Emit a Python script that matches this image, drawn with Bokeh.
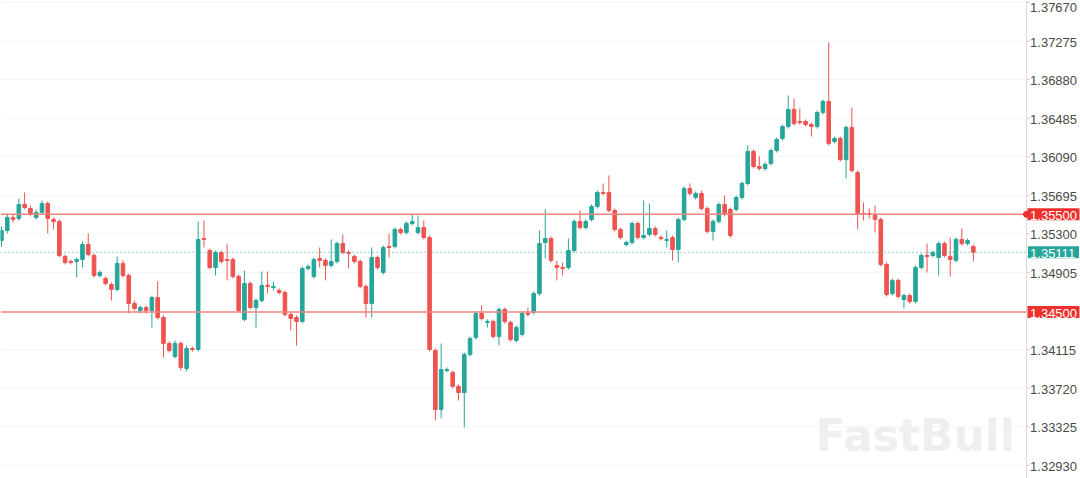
from bokeh.plotting import figure
from bokeh.models import Range1d, ColumnDataSource
from bokeh.embed import file_html
from bokeh.resources import INLINE
from bokeh.core.properties import value

# ---- OHLC data ----
opens = [
    1.35232, 1.35335, 1.35468, 1.35458, 1.35601, 1.35560, 1.35468, 1.35520, 1.35611, 1.35448,
    1.35427, 1.35069, 1.35018, 1.35018, 1.35038, 1.35191, 1.35079, 1.34874, 1.34843, 1.34782,
    1.34731, 1.34997, 1.34874, 1.34587, 1.34516, 1.34546, 1.34516, 1.34648, 1.34444, 1.34177,
    1.34045, 1.34177, 1.33922, 1.34126, 1.34116, 1.35253, 1.35130, 1.34956, 1.35110, 1.35038,
    1.35038, 1.34864, 1.34424, 1.34792, 1.34546, 1.34618, 1.34772, 1.34751, 1.34720, 1.34700,
    1.34475, 1.34444, 1.34403, 1.34946, 1.34864, 1.35048, 1.35028, 1.34977, 1.35018, 1.35201,
    1.35110, 1.35069, 1.35018, 1.34762, 1.34587, 1.35058, 1.34905, 1.35171, 1.35171, 1.35345,
    1.35314, 1.35406, 1.35314, 1.35365, 1.35263, 1.34106, 1.33502, 1.33901, 1.33881, 1.33738,
    1.33676, 1.34065, 1.34239, 1.34485, 1.34393, 1.34403, 1.34249, 1.34526, 1.34393, 1.34208,
    1.34270, 1.34485, 1.34496, 1.34689, 1.35212, 1.35253, 1.34977, 1.34956, 1.34956, 1.35130,
    1.35427, 1.35365, 1.35448, 1.35581, 1.35724, 1.35724, 1.35540, 1.35345, 1.35191, 1.35212,
    1.35406, 1.35263, 1.35294, 1.35355, 1.35263, 1.35232, 1.35263, 1.35140, 1.35448, 1.35765,
    1.35673, 1.35714, 1.35560, 1.35325, 1.35427, 1.35601, 1.35550, 1.35550, 1.35673, 1.35816,
    1.36144, 1.35990, 1.35970, 1.36021, 1.36154, 1.36277, 1.36400, 1.36574, 1.36451, 1.36451,
    1.36420, 1.36400, 1.36543, 1.36656, 1.36246, 1.36277, 1.36060, 1.36390, 1.35929, 1.35509,
    1.35509, 1.35489, 1.35448, 1.34987, 1.34689, 1.34823, 1.34628, 1.34669, 1.34608, 1.34956,
    1.35079, 1.35079, 1.35058, 1.35201, 1.35069, 1.35028, 1.35243, 1.35201, 1.35171,
]
highs = [
    1.35376, 1.35509, 1.35499, 1.35662, 1.35724, 1.35591, 1.35550, 1.35642, 1.35632, 1.35468,
    1.35448, 1.35089, 1.35038, 1.35058, 1.35222, 1.35304, 1.35099, 1.34925, 1.34864, 1.34803,
    1.35069, 1.35028, 1.34894, 1.34618, 1.34567, 1.34567, 1.34669, 1.34813, 1.34465, 1.34198,
    1.34208, 1.34198, 1.34157, 1.34147, 1.35427, 1.35437, 1.35150, 1.35130, 1.35130, 1.35201,
    1.35058, 1.34884, 1.34925, 1.34813, 1.34638, 1.34915, 1.34915, 1.34813, 1.34741, 1.34720,
    1.34496, 1.34465, 1.34966, 1.34987, 1.35058, 1.35161, 1.35048, 1.35243, 1.35222, 1.35294,
    1.35130, 1.35089, 1.35038, 1.34782, 1.35161, 1.35079, 1.35181, 1.35304, 1.35365, 1.35365,
    1.35427, 1.35499, 1.35489, 1.35437, 1.35284, 1.34126, 1.34177, 1.33932, 1.33901, 1.33758,
    1.34086, 1.34249, 1.34506, 1.34567, 1.34424, 1.34424, 1.34546, 1.34546, 1.34413, 1.34362,
    1.34506, 1.34546, 1.34710, 1.35335, 1.35550, 1.35273, 1.35028, 1.35008, 1.35253, 1.35448,
    1.35540, 1.35448, 1.35601, 1.35744, 1.35816, 1.35898, 1.35560, 1.35365, 1.35232, 1.35427,
    1.35427, 1.35642, 1.35611, 1.35376, 1.35284, 1.35335, 1.35284, 1.35468, 1.35786, 1.35816,
    1.35734, 1.35744, 1.35581, 1.35448, 1.35622, 1.35693, 1.35570, 1.35693, 1.35837, 1.36205,
    1.36164, 1.36093, 1.36032, 1.36174, 1.36287, 1.36420, 1.36717, 1.36686, 1.36584, 1.36472,
    1.36441, 1.36564, 1.36676, 1.37260, 1.36297, 1.36297, 1.36410, 1.36594, 1.35949, 1.35622,
    1.35560, 1.35591, 1.35468, 1.35008, 1.34843, 1.34843, 1.34689, 1.34689, 1.34977, 1.35099,
    1.35201, 1.35130, 1.35222, 1.35222, 1.35263, 1.35263, 1.35355, 1.35253, 1.35191,
]
lows = [
    1.35171, 1.35304, 1.35417, 1.35437, 1.35550, 1.35479, 1.35448, 1.35499, 1.35304, 1.35345,
    1.35058, 1.34987, 1.34987, 1.34853, 1.34956, 1.35069, 1.34853, 1.34853, 1.34772, 1.34618,
    1.34710, 1.34853, 1.34485, 1.34516, 1.34485, 1.34485, 1.34341, 1.34424, 1.34034, 1.34086,
    1.34024, 1.33901, 1.33891, 1.34096, 1.34096, 1.35161, 1.34936, 1.34874, 1.34997, 1.34823,
    1.34843, 1.34496, 1.34403, 1.34526, 1.34341, 1.34597, 1.34689, 1.34720, 1.34679, 1.34455,
    1.34311, 1.34157, 1.34382, 1.34925, 1.34843, 1.34956, 1.34823, 1.34956, 1.34997, 1.35089,
    1.34946, 1.34997, 1.34741, 1.34444, 1.34444, 1.34936, 1.34884, 1.35058, 1.35150, 1.35294,
    1.35294, 1.35386, 1.35294, 1.35243, 1.34096, 1.33389, 1.33410, 1.33881, 1.33717, 1.33594,
    1.33317, 1.34045, 1.34218, 1.34413, 1.34341, 1.34229, 1.34157, 1.34382, 1.34198, 1.34188,
    1.34249, 1.34455, 1.34475, 1.34669, 1.35048, 1.35008, 1.34823, 1.34874, 1.34936, 1.35110,
    1.35345, 1.35345, 1.35427, 1.35560, 1.35693, 1.35520, 1.35325, 1.35243, 1.35171, 1.35191,
    1.35243, 1.35243, 1.35273, 1.35273, 1.35232, 1.35161, 1.35028, 1.35008, 1.35427, 1.35693,
    1.35652, 1.35540, 1.35304, 1.35232, 1.35406, 1.35479, 1.35263, 1.35530, 1.35652, 1.35796,
    1.35970, 1.35949, 1.35949, 1.36001, 1.36134, 1.36256, 1.36379, 1.36410, 1.36420, 1.36400,
    1.36297, 1.36379, 1.36523, 1.36205, 1.36226, 1.36042, 1.35867, 1.35929, 1.35345, 1.35437,
    1.35458, 1.35314, 1.34966, 1.34659, 1.34669, 1.34638, 1.34536, 1.34587, 1.34587, 1.34936,
    1.34905, 1.35058, 1.34874, 1.35058, 1.34864, 1.35008, 1.35181, 1.35181, 1.35018,
]
closes = [
    1.35335, 1.35468, 1.35448, 1.35601, 1.35570, 1.35499, 1.35520, 1.35611, 1.35458, 1.35427,
    1.35079, 1.35008, 1.35008, 1.35038, 1.35191, 1.35089, 1.34874, 1.34905, 1.34792, 1.34731,
    1.34997, 1.34874, 1.34587, 1.34536, 1.34546, 1.34516, 1.34648, 1.34444, 1.34177, 1.34106,
    1.34177, 1.33932, 1.34126, 1.34116, 1.35243, 1.35243, 1.34956, 1.35110, 1.35018, 1.35028,
    1.34864, 1.34516, 1.34792, 1.34546, 1.34618, 1.34772, 1.34762, 1.34762, 1.34700, 1.34475,
    1.34434, 1.34403, 1.34946, 1.34966, 1.35038, 1.35028, 1.34977, 1.35018, 1.35201, 1.35110,
    1.35099, 1.35018, 1.34762, 1.34587, 1.35058, 1.34956, 1.35161, 1.35161, 1.35345, 1.35314,
    1.35406, 1.35427, 1.35365, 1.35263, 1.34116, 1.33502, 1.33911, 1.33911, 1.33738, 1.33676,
    1.34065, 1.34229, 1.34485, 1.34434, 1.34403, 1.34249, 1.34526, 1.34403, 1.34218, 1.34341,
    1.34485, 1.34475, 1.34689, 1.35201, 1.35253, 1.35028, 1.34956, 1.34946, 1.35130, 1.35427,
    1.35365, 1.35427, 1.35581, 1.35724, 1.35714, 1.35540, 1.35345, 1.35263, 1.35212, 1.35406,
    1.35263, 1.35284, 1.35355, 1.35294, 1.35253, 1.35243, 1.35140, 1.35448, 1.35765, 1.35714,
    1.35714, 1.35560, 1.35325, 1.35427, 1.35601, 1.35499, 1.35284, 1.35673, 1.35816, 1.36144,
    1.35990, 1.35970, 1.36011, 1.36154, 1.36267, 1.36400, 1.36574, 1.36430, 1.36441, 1.36420,
    1.36400, 1.36543, 1.36656, 1.36226, 1.36277, 1.36060, 1.36390, 1.35949, 1.35509, 1.35499,
    1.35499, 1.35448, 1.34987, 1.34679, 1.34823, 1.34659, 1.34669, 1.34608, 1.34956, 1.35079,
    1.35069, 1.35110, 1.35201, 1.35079, 1.35038, 1.35243, 1.35201, 1.35232, 1.35111,
]

resistance = 1.35500
support = 1.34500
last_price = 1.35111
price_ticks = [1.32930, 1.33325, 1.33720, 1.34115, 1.34905, 1.35300,
               1.35695, 1.36090, 1.36485, 1.36880, 1.37275, 1.37670]
watermark = "FastBull"

UP = "#26a69a"
DOWN = "#ef5350"
TAG_RED = "#f0302c"

# layout constants (candle-index units on x)
X0, X1 = -0.17, 186.52    # visible index span of the whole canvas
Y0, Y1 = 1.32795, 1.37690
AXIS_X = 177.18           # price-scale border
LABEL_X = 177.80          # where the price-scale texts start
TAG_X = 181.85            # centre of the price tags
TICK_LEN = 0.55

n = len(opens)
idx = list(range(n))
colors = [UP if c >= o else DOWN for o, c in zip(opens, closes)]
src = ColumnDataSource(dict(
    x=idx, open=opens, close=closes, high=highs, low=lows,
    top=[max(o, c) for o, c in zip(opens, closes)],
    bottom=[min(o, c) for o, c in zip(opens, closes)],
    color=colors,
))

p = figure(width=1080, height=478,
           x_range=Range1d(X0, X1), y_range=Range1d(Y0, Y1),
           output_backend="svg", toolbar_location=None,
           x_axis_location=None, y_axis_location=None, min_border=0)
p.outline_line_color = None
p.background_fill_color = "white"
p.xgrid.visible = False
p.ygrid.visible = False

# faint horizontal grid at the price ticks
p.segment(x0=[X0] * len(price_ticks), x1=[AXIS_X] * len(price_ticks),
          y0=price_ticks, y1=price_ticks, line_color="#f6f6f6", line_width=1)

# wicks and bodies
p.segment(x0="x", y0="low", x1="x", y1="high", color="color", line_width=1, source=src)
p.vbar(x="x", top="top", bottom="bottom", width=0.62, fill_color="color",
       line_color="color", line_width=1, source=src)

# level lines (end at the price scale)
p.segment(x0=[X0, X0], x1=[AXIS_X, AXIS_X], y0=[resistance, support],
          y1=[resistance, support], line_color="#ee8580", line_width=1.5)
p.segment(x0=[X0], x1=[AXIS_X], y0=[last_price], y1=[last_price],
          line_color=UP, line_width=1, line_dash="1 3")

# price scale: border line, ticks, labels
p.segment(x0=[AXIS_X], x1=[AXIS_X], y0=[Y0], y1=[Y1],
          line_color="#d9d9d9", line_width=1)
p.segment(x0=[AXIS_X] * len(price_ticks), x1=[AXIS_X + TICK_LEN] * len(price_ticks),
          y0=price_ticks, y1=price_ticks, line_color="#cfcfcf", line_width=1)

low_ticks = price_ticks[:-1]
p.text(x=[LABEL_X] * len(low_ticks), y=low_ticks,
       text=[f"{t:.5f}" for t in low_ticks], text_baseline="middle", text_align="left",
       text_font=value("Liberation Sans"), text_font_size="13px",
       text_color="#4a4a4a", y_offset=1)
# the highest label nudged inside the canvas
p.text(x=[LABEL_X], y=[price_ticks[-1]], text=[f"{price_ticks[-1]:.5f}"],
       text_baseline="middle", text_align="left", y_offset=5,
       text_font=value("Liberation Sans"), text_font_size="13px", text_color="#4a4a4a")

# marker where the resistance line meets the scale
p.scatter(x=[AXIS_X], y=[resistance], size=6, color="#e5332f")

# price tags
tag_vals = [resistance, support, last_price]
tag_cols = [TAG_RED, TAG_RED, UP]
p.rect(x=[TAG_X] * 3, y=tag_vals, width=[52, 52, 51], height=[12, 12, 12],
       width_units="screen", height_units="screen",
       fill_color=tag_cols, line_color=None)
p.text(x=[LABEL_X] * 3, y=tag_vals, text=[f"{v:.5f}" for v in tag_vals],
       text_baseline="middle", text_align="left", y_offset=1,
       text_font=value("Liberation Sans"), text_font_size="13px", text_color="white")

# watermark
p.text(x=[140.71], y=[1.33236], text=[watermark], text_baseline="alphabetic",
       text_align="left", text_font=value("DejaVu Sans"), text_font_style="bold",
       text_font_size="44px", text_color="#efefef")

open("out.html", "w").write(file_html(p, INLINE))
